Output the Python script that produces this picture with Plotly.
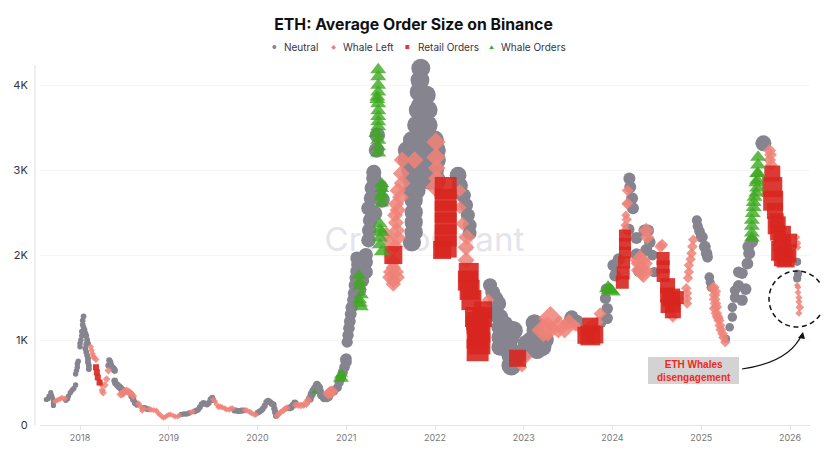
# ETH average order size on Binance, colored by who dominates the flow
import numpy as np
import plotly.graph_objects as go

GRAY = "#85848F"
SALMON = "#EF8378"
RED = "#D8261F"
GREEN = "#3CA91F"

year_ticks = [2018, 2019, 2020, 2021, 2022, 2023, 2024, 2025, 2026]
value_ticks = [0, 1000, 2000, 3000, 4000]
value_labels = ["0", "1K", "2K", "3K", "4K"]

# x = decimal year, y = average order size
neutral_x = [
    2017.62, 2017.64, 2017.65, 2017.67, 2017.68, 2017.69, 2017.70, 2017.70, 2017.70,
    2017.84, 2017.86, 2017.87, 2017.89, 2017.91, 2017.93, 2017.95,
    2017.95, 2017.96, 2017.97, 2017.97, 2017.98,
    2018.00, 2018.00, 2018.01, 2018.02, 2018.02, 2018.03, 2018.03, 2018.04, 2018.04, 2018.05, 2018.06,
    2018.07, 2018.08, 2018.09, 2018.07, 2018.06, 2018.07, 2018.08, 2018.09, 2018.09, 2018.10, 2018.10,
    2018.32, 2018.33, 2018.34, 2018.35, 2018.37, 2018.39, 2018.38,
    2018.39, 2018.40, 2018.42, 2018.44, 2018.46, 2018.48,
    2018.58, 2018.60, 2018.62, 2018.64, 2018.71, 2018.73, 2018.75, 2018.77,
    2019.14, 2019.17, 2019.20, 2019.23,
    2019.29, 2019.31, 2019.33, 2019.35, 2019.37, 2019.39, 2019.41, 2019.43, 2019.45, 2019.47, 2019.49, 2019.50,
    2019.74, 2019.76, 2019.78, 2019.80, 2019.82, 2019.84,
    2020.00, 2020.02, 2020.04, 2020.06, 2020.08, 2020.10, 2020.12, 2020.14, 2020.16, 2020.18, 2020.19, 2020.20, 2020.21,
    2020.36, 2020.38, 2020.40, 2020.42,
    2020.59, 2020.61, 2020.63, 2020.65, 2020.67, 2020.69, 2020.70, 2020.72, 2020.75, 2020.78, 2020.80,
    2020.86, 2020.90, 2020.92, 2020.94, 2020.96, 2020.98, 2021.00, 2021.00, 2020.99,
    2021.01, 2021.02, 2021.03, 2021.04, 2021.05, 2021.06, 2021.08, 2021.09, 2021.10, 2021.11, 2021.12, 2021.13,
    2021.12, 2021.18, 2021.22, 2021.22, 2021.18, 2021.18, 2021.15, 2021.22,
    2021.25, 2021.26, 2021.27, 2021.25, 2021.28, 2021.29, 2021.31, 2021.31,
    2021.34, 2021.35, 2021.38, 2021.40, 2021.32,
    2021.84, 2021.83, 2021.82, 2021.84, 2021.90, 2021.81, 2021.88, 2021.92,
    2021.79, 2021.85, 2021.92, 2021.74, 2021.81, 2021.88, 2021.94, 2021.99,
    2021.68, 2021.75, 2021.82, 2021.89, 2021.96, 2022.01, 2021.68, 2021.75, 2021.82, 2021.89, 2021.96, 2022.01,
    2021.72, 2021.79, 2021.85, 2021.92, 2021.99, 2021.74, 2021.81, 2021.94, 2022.01,
    2021.74, 2021.79, 2021.76, 2021.76, 2021.76, 2021.76, 2021.74,
    2022.26, 2022.28, 2022.32, 2022.35, 2022.37, 2022.39, 2022.39,
    2022.62, 2022.65, 2022.68, 2022.71, 2022.73, 2022.73, 2022.73, 2022.73,
    2022.68, 2022.78, 2022.88, 2022.80, 2022.84, 2022.86,
    2022.82, 2022.84, 2022.80, 2022.88, 2022.86,
    2023.03, 2023.08, 2023.13, 2023.15, 2023.21, 2022.99, 2023.10, 2023.18, 2023.24, 2023.12,
    2023.53, 2023.54, 2023.60, 2023.87, 2023.94, 2023.94, 2023.92, 2023.93,
    2024.01, 2024.03, 2024.07,
    2024.19, 2024.20, 2024.22, 2024.23, 2024.18, 2024.27, 2024.27, 2024.30,
    2024.36, 2024.40, 2024.38, 2024.45, 2024.47, 2024.42,
    2024.95, 2024.96, 2024.98, 2025.00, 2025.01, 2025.04, 2025.06, 2025.07,
    2025.09, 2025.10, 2025.11,
    2025.28, 2025.32, 2025.35, 2025.35, 2025.38, 2025.38, 2025.42, 2025.46, 2025.46, 2025.42, 2025.50,
    2025.52, 2025.54, 2025.53, 2025.57, 2025.70,
    2026.08, 2026.09, 2026.08,
]
neutral_y = [
    300, 310, 340, 380, 350, 320, 290, 230, 260,
    290, 310, 340, 380, 410, 430, 470,
    600, 640, 680, 720, 750,
    920, 960, 1000, 1050, 1100, 1180, 1230, 1280, 1150, 1120, 1080,
    1050, 1000, 960, 950, 900, 860, 820, 780, 740, 700, 660,
    700, 760, 740, 700, 670, 640, 660,
    520, 490, 470, 450, 430, 410,
    340, 300, 260, 240, 200, 200, 190, 185,
    125, 130, 130, 140,
    160, 170, 180, 210, 245, 260, 250, 240, 260, 300, 320, 295,
    170, 170, 165, 165, 170, 170,
    145, 155, 170, 190, 225, 270, 285, 270, 250, 240, 190, 150, 110,
    200, 210, 235, 260,
    310, 360, 400, 430, 470, 440, 400, 350, 320, 320, 330,
    400, 440, 500, 560, 620, 680, 740, 780, 770,
    975, 1055, 1140, 1220, 1305, 1385, 1470, 1550, 1645, 1730, 1810, 1890,
    1965, 1965, 2000, 1915, 1820, 1700, 1590, 1800,
    2175, 2290, 2410, 2550, 2670, 2790, 2905, 2975,
    3235, 3410, 2800, 2650, 2490,
    4200, 4060, 3920, 3765, 3883, 3707, 3707, 3707,
    3530, 3530, 3530, 3353, 3353, 3353, 3353, 3353,
    3235, 3235, 3235, 3235, 3235, 3235, 3118, 3118, 3118, 3118, 3118, 3118,
    3000, 3000, 3000, 3000, 3000, 2882, 2882, 2882, 2882,
    2764, 2764, 2647, 2505, 2388, 2270, 2150,
    2940, 2820, 2700, 2590, 2470, 2350, 2260,
    1645, 1560, 1490, 1430, 1270, 1150, 1030, 915,
    1300, 1180, 1110, 1050, 880, 700,
    1115, 1030, 930, 760, 820,
    960, 1000, 1115, 880, 915, 850, 900, 960, 1000, 1200,
    1250, 1270, 1220, 1210, 1370, 1255, 1490, 1600,
    1880, 1760, 1950,
    2900, 2800, 2670, 2550, 2300, 2200, 2010, 1810,
    2290, 2290, 2060, 2000, 1800, 2150,
    2410, 2340, 2280, 2220, 2210, 2100, 2020, 1975,
    1740, 1680, 1620,
    1015, 1150, 1270, 1385, 1500, 1585, 1640, 1470, 1785, 1800, 1600,
    1900, 2020, 2100, 2160, 3315,
    1920, 1780, 1725,
]
neutral_size_years = [2017.5, 2018.0, 2018.1, 2018.3, 2018.45, 2018.7, 2019.0, 2019.4, 2020.0, 2020.5, 2020.65, 2020.9,
                      2021.0, 2021.1, 2021.4, 2021.6, 2021.85, 2022.05, 2022.25, 2022.35, 2022.62, 2022.85, 2023.0,
                      2023.2, 2023.5, 2023.9, 2024.0, 2024.4, 2024.48, 2024.95, 2025.05, 2025.1, 2025.3, 2025.4,
                      2025.55, 2025.7, 2026.09]
neutral_sizes = [5, 5.5, 6, 6, 7, 6, 5, 6, 6, 7, 8.5, 9,
                 11, 13, 16, 17, 19, 20, 17, 14, 14, 20, 17,
                 18, 14, 11, 12, 12, 10, 10, 12, 9, 8, 11,
                 12, 16, 8]

whale_left_x = [
    2017.72, 2017.74, 2017.76, 2017.78, 2017.80, 2017.83,
    2018.12, 2018.13, 2018.14, 2018.15, 2018.16, 2018.18,
    2018.24, 2018.25, 2018.26, 2018.28, 2018.30, 2018.32,
    2018.46, 2018.48, 2018.50, 2018.52, 2018.54, 2018.56, 2018.58, 2018.60,
    2018.66, 2018.68, 2018.70, 2018.72,
    2018.78, 2018.80, 2018.83, 2018.86, 2018.88, 2018.90, 2018.92, 2018.94, 2018.96, 2018.98, 2019.00, 2019.02,
    2019.05, 2019.07, 2019.10, 2019.12, 2019.25, 2019.27,
    2019.50, 2019.52, 2019.54, 2019.56, 2019.58, 2019.60, 2019.63, 2019.65, 2019.68, 2019.70, 2019.72,
    2019.86, 2019.88, 2019.91, 2019.93, 2019.96, 2019.98,
    2020.22, 2020.24, 2020.26, 2020.29, 2020.31, 2020.33,
    2020.43, 2020.46, 2020.49, 2020.52, 2020.55, 2020.57,
    2020.80, 2020.82, 2020.84,
    2021.53, 2021.53, 2021.49, 2021.57, 2021.50, 2021.56, 2021.53, 2021.53, 2021.45, 2021.50, 2021.55, 2021.58,
    2021.57, 2021.56, 2021.55, 2021.58, 2021.56, 2021.58, 2021.61, 2021.63, 2021.62, 2021.63, 2021.77,
    2022.01, 2022.01, 2022.02, 2022.02, 2022.00,
    2022.28, 2022.28, 2022.31, 2022.36, 2022.35, 2022.35, 2022.60,
    2022.98, 2023.03,
    2023.30, 2023.22, 2023.27, 2023.39, 2023.46, 2023.51, 2023.58, 2023.61, 2023.67, 2023.74, 2023.78, 2023.83, 2023.86,
    2024.14, 2024.15, 2024.16, 2024.17, 2024.17, 2024.16, 2024.15,
    2024.38, 2024.39, 2024.33, 2024.33, 2024.35, 2024.31, 2024.54, 2024.56,
    2024.68, 2024.84, 2024.83, 2024.85, 2024.86, 2024.88, 2024.89, 2024.91, 2024.84, 2024.84, 2024.86, 2024.90,
    2025.13, 2025.14, 2025.15, 2025.15, 2025.16, 2025.17, 2025.19, 2025.20, 2025.21, 2025.24, 2025.27,
    2025.16, 2025.15, 2025.17, 2025.18, 2025.22, 2025.25,
    2025.77, 2025.78, 2025.77, 2025.79,
    2026.08, 2026.09, 2026.09,
    2026.08, 2026.09, 2026.09, 2026.10, 2026.10, 2026.11, 2026.10,
]
whale_left_y = [
    280, 290, 300, 310, 320, 310,
    920, 880, 840, 810, 790, 770,
    480, 410, 380, 470, 540, 640,
    360, 370, 390, 400, 395, 385, 365, 340,
    250, 215, 170, 190,
    185, 180, 175, 170, 140, 120, 100, 85, 95, 110, 120, 125,
    110, 100, 100, 110, 150, 155,
    300, 280, 240, 210, 215, 210, 195, 185, 180, 195, 195,
    175, 170, 155, 140, 125, 120,
    110, 130, 150, 170, 190, 200,
    235, 235, 230, 235, 250, 290,
    370, 385, 390,
    1660, 1700, 1740, 1740, 1800, 1800, 1850, 1920, 2250, 2150, 2100, 2200,
    2290, 2380, 2470, 2530, 2600, 2760, 2680, 2845, 2960, 3118, 3118,
    3330, 3150, 3025, 2905, 2800,
    2760, 2560, 2370, 2210, 2090, 1940, 1470,
    680, 800,
    1255, 1115, 1130, 1150, 1135, 1210, 1170, 1150, 1075, 1170, 1190, 1210, 1310,
    2350, 2470, 2600, 2760, 2610, 2420, 2300,
    2290, 2210, 1820, 1900, 1785, 1940, 2100, 2120,
    1270, 1490, 1610, 1730, 1880, 1950, 2020, 2180, 1550, 1430, 1800, 2100,
    1610, 1620, 1530, 1370, 1430, 1315, 1260, 1230, 1170, 1075, 975,
    1570, 1480, 1390, 1280, 1120, 1030,
    3230, 3180, 3120, 3060,
    2210, 2140, 2090,
    1645, 1620, 1560, 1500, 1450, 1385, 1315,
]
whale_left_size_years = [2017.5, 2018.1, 2018.5, 2018.7, 2019.0, 2020.0, 2020.5, 2020.82, 2021.0, 2021.53, 2021.62, 2022.01,
                         2022.03, 2022.3, 2022.35, 2022.6, 2023.0, 2023.25, 2023.45, 2023.6, 2023.85, 2024.15, 2024.18,
                         2024.33, 2024.4, 2024.85, 2025.15, 2025.27, 2025.77, 2026.08, 2026.1, 2026.12]
whale_left_sizes = [4.5, 5, 7, 5, 4.5, 5, 6, 10, 10, 12, 13, 15,
                    12, 10, 13, 10, 8, 20, 16, 8, 10, 7, 10,
                    17, 10, 8, 9, 8, 10, 5, 5.5, 8]

retail_x = [
    2018.18, 2018.19, 2018.20, 2018.22, 2021.53,
    2022.12, 2022.12, 2022.12, 2022.12, 2022.12, 2022.12, 2022.08,
    2022.38, 2022.37, 2022.39, 2022.41, 2022.43, 2022.53, 2022.54, 2022.48, 2022.48, 2022.48,
    2022.45, 2022.50, 2022.50,
    2022.93, 2023.70, 2023.80, 2023.75, 2023.75,
    2024.11, 2024.12, 2024.13, 2024.14, 2024.14, 2024.14,
    2024.57, 2024.57, 2024.57, 2024.62, 2024.62, 2024.68, 2024.73, 2024.66, 2024.68, 2024.62,
    2025.80, 2025.80, 2025.81, 2025.83, 2025.85, 2025.86, 2025.90, 2025.92, 2025.97, 2026.00,
    2025.85, 2025.92, 2025.90, 2025.95,
]
retail_y = [
    680, 620, 560, 500, 2000,
    2790, 2650, 2510, 2370, 2230, 2100, 2060,
    1790, 1700, 1590, 1470, 1200, 1270, 1350, 1200, 1030, 880,
    1270, 1100, 960,
    785, 1055, 1060, 1055, 1170,
    1680, 1790, 1915, 2030, 2130, 2230,
    1960, 1860, 1760, 1640, 1530, 1410, 1500, 1500, 1350, 1400,
    2960, 2800, 2640, 2520, 2410, 2260, 2140, 1975, 2020, 2170,
    2350, 2250, 2050, 1960,
]
retail_b = [
    6, 6, 6, 6, 18,
    22, 22, 22, 22, 22, 22, 18,
    20, 20, 20, 20, 14, 20, 18, 22, 22, 22,
    20, 22, 22,
    17, 17, 17, 20, 16,
    13, 13, 12, 12, 12, 12,
    13, 13, 13, 15, 15, 15, 13, 18, 16, 14,
    16, 20, 20, 16, 14, 15, 16, 18, 18, 14,
    18, 16, 20, 18,
]

whale_orders_x = [
    2020.64, 2020.93, 2020.95, 2020.96, 2020.92,
    2021.14, 2021.15, 2021.17, 2021.15, 2021.17, 2021.15, 2021.16,
    2021.38, 2021.40, 2021.40, 2021.40, 2021.40, 2021.40, 2021.38, 2021.38, 2021.38, 2021.39, 2021.40,
    2021.36, 2021.36, 2021.35, 2021.35, 2021.36, 2021.36, 2021.36, 2021.34, 2021.36, 2021.36,
    2021.36, 2021.36, 2021.36, 2021.36, 2021.36,
    2023.97, 2023.95, 2023.99,
    2025.57, 2025.57, 2025.57, 2025.58, 2025.59, 2025.63, 2025.63, 2025.63, 2025.64,
    2025.57, 2025.59, 2025.60, 2025.62, 2025.62, 2025.64, 2025.64,
]
whale_orders_y = [
    385, 580, 600, 540, 540,
    1760, 1630, 1530, 1470, 1390, 1680, 1430,
    2370, 2040, 2270, 2840, 2720, 2610, 2300, 2200, 2120, 2680, 2780,
    4100, 4000, 3860, 3830, 3780, 3630, 3510, 3430, 3275, 3200,
    4180, 3920, 3700, 3570, 3350,
    1590, 1610, 1570,
    2260, 2340, 2410, 2490, 2560, 2790, 2880, 2960, 3150,
    2200, 2620, 2680, 2730, 2850, 3060, 2960,
]
whale_orders_b = [
    7, 11, 11, 11, 11,
    13, 13, 13, 13, 13, 13, 13,
    13, 14, 14, 13, 13, 13, 13, 14, 14, 13, 13,
    14, 14, 14, 14, 14, 14, 14, 14, 14, 14,
    14, 14, 14, 14, 14,
    16, 16, 16,
    14, 14, 14, 14, 14, 14, 14, 14, 14,
    14, 14, 14, 14, 14, 14, 14,
]

X_RANGE = [2017.549, 2026.225]
Y_RANGE = [0, 4237]
# the page body adds 8px around the figure, so everything is placed in page pixels minus that
PAGE_PAD = 8
FIG_W, FIG_H = 829 - PAGE_PAD, 465 - PAGE_PAD
PLOT_L, PLOT_R, PLOT_T, PLOT_B = 40, 810, 65, 425


def px(x, y):
    # page pixels to paper coordinates, for legend and callout
    return (x - PLOT_L) / (PLOT_R - PLOT_L), (PLOT_B - y) / (PLOT_B - PLOT_T)


fig = go.Figure()

# watermark goes in as the first trace so the markers cover it
fig.add_trace(go.Scatter(
    x=[2021.88], y=[2140], mode="text", text=["CryptoQuant"], showlegend=False, hoverinfo="skip",
    textfont=dict(family="Inter, Arial, sans-serif", size=33, color="#E4E4EC"),
))

series = [
    ("Neutral", neutral_x, neutral_y, np.interp(neutral_x, neutral_size_years, neutral_sizes), GRAY, "circle", 1.0),
    ("Whale Left", whale_left_x, whale_left_y, np.interp(whale_left_x, whale_left_size_years, whale_left_sizes),
     SALMON, "diamond", 0.85),
    ("Retail Orders", retail_x, retail_y, retail_b, RED, "square", 0.9),
    ("Whale Orders", whale_orders_x, whale_orders_y, whale_orders_b, GREEN, "triangle-up", 0.8),
]
for name, xs, ys, bs, color, symbol, alpha in series:
    fig.add_trace(go.Scatter(
        x=xs, y=ys, mode="markers", name=name, showlegend=False, cliponaxis=False,
        marker=dict(size=bs, color=color, symbol=symbol, opacity=alpha, line=dict(width=0)),
    ))

fig.update_layout(
    width=FIG_W,
    height=FIG_H,
    margin=dict(l=PLOT_L - PAGE_PAD, r=829 - PLOT_R, t=PLOT_T - PAGE_PAD, b=465 - PLOT_B),
    paper_bgcolor="white",
    plot_bgcolor="white",
    font=dict(family="Inter, Arial, sans-serif", size=11, color="#333333"),
    title=dict(text="<b>ETH: Average Order Size on Binance</b>", xref="container", yref="container",
               x=(413.5 - PAGE_PAD) / FIG_W, xanchor="center", y=1 - (24 - PAGE_PAD) / FIG_H, yanchor="middle",
               font=dict(size=15.8, color="#111111")),
    showlegend=False,
)
fig.update_xaxes(
    range=X_RANGE, tickmode="array", tickvals=year_ticks, ticktext=[str(y) for y in year_ticks],
    automargin=False, showgrid=False, zeroline=False, showline=True, linecolor="#E2E2EA", linewidth=1,
    ticks="outside", ticklen=4, tickcolor="#E2E2EA", tickfont=dict(size=9, color="#777777"),
)
fig.update_yaxes(
    range=Y_RANGE, tickmode="array", tickvals=value_ticks, ticktext=value_labels,
    automargin=False, showgrid=True, gridcolor="#F6F6F8", zeroline=False, showline=False,
    ticks="outside", ticklen=9, tickcolor="rgba(0,0,0,0)", tickfont=dict(size=11, color="#333333"),
)

# legend row, plotly's own legend cannot keep the marker this close to its label
legend_items = [
    ("Neutral", "●", GRAY, 274, 283),
    ("Whale Left", "◆", SALMON, 333, 342),
    ("Retail Orders", "■", "#E8322B", 407, 417),
    ("Whale Orders", "▲", GREEN, 491, 500),
]
for label, glyph, color, glyph_px, text_px in legend_items:
    gx, gy = px(glyph_px, 47)
    tx, ty = px(text_px, 47)
    fig.add_annotation(xref="paper", yref="paper", x=gx, y=gy, text=glyph, showarrow=False,
                       xanchor="center", yanchor="middle", font=dict(size=5, color=color))
    fig.add_annotation(xref="paper", yref="paper", x=tx, y=ty, text=label, showarrow=False,
                       xanchor="left", yanchor="middle", xshift=-1, font=dict(size=10, color="#333344"))

# y axis line sits a little left of the plot area
x0, y0 = px(35, PLOT_T)
x1, y1 = px(35, PLOT_B)
fig.add_shape(type="line", xref="paper", yref="paper", x0=x0, y0=y0, x1=x1, y1=y1,
              line=dict(color="#DCDCE6", width=1))

# dashed ring around the last points
x0, y0 = px(769, 271)
x1, y1 = px(825, 327)
fig.add_shape(type="circle", xref="paper", yref="paper", x0=x0, y0=y0, x1=x1, y1=y1,
              line=dict(color="#111111", width=1.5, dash="5px,3.5px"))

# callout box
x0, y0 = px(648, 357)
x1, y1 = px(739, 384)
fig.add_shape(type="rect", xref="paper", yref="paper", x0=x0, y0=y0, x1=x1, y1=y1,
              fillcolor="#D3D3D3", line=dict(width=0))
fig.add_annotation(xref="paper", yref="paper", x=(x0 + x1) / 2, y=(y0 + y1) / 2, showarrow=False,
                   xanchor="center", yanchor="middle",
                   text="<b>ETH Whales<br>disengagement</b>", align="center",
                   font=dict(family="Liberation Sans, Arial, sans-serif", size=10, color="#EE2A1E"))

# curved arrow up to the ring
a = px(742, 369)
b = px(790, 362)
c = px(802, 334)
fig.add_shape(type="path", xref="paper", yref="paper",
              path=f"M {a[0]} {a[1]} Q {b[0]} {b[1]} {c[0]} {c[1]}", line=dict(color="#111111", width=1.2))
t = px(803, 332)
l = px(798, 338)
r = px(805, 339)
fig.add_shape(type="path", xref="paper", yref="paper",
              path=f"M {t[0]} {t[1]} L {l[0]} {l[1]} L {r[0]} {r[1]} Z", fillcolor="#111111", line=dict(width=0))

fig.write_html("out.html")
